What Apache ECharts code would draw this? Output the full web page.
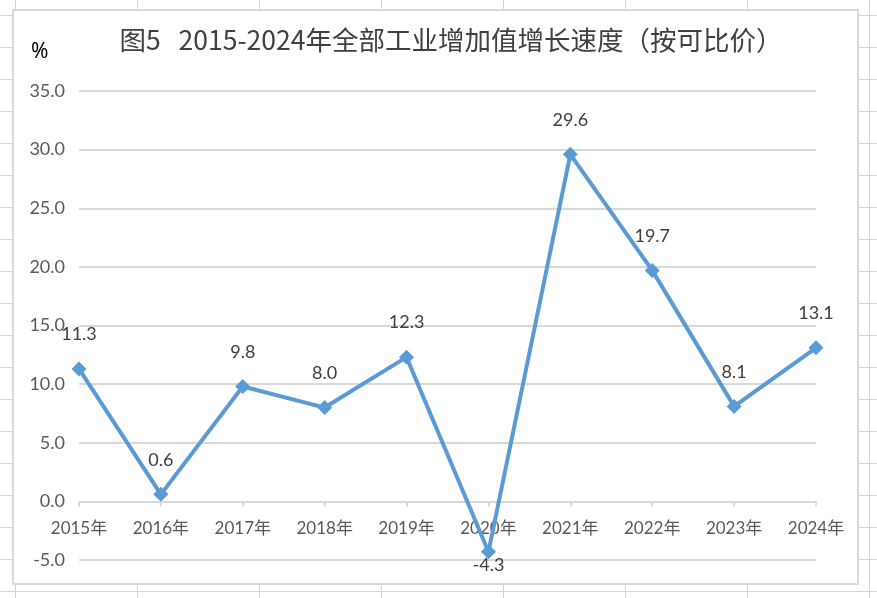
<!DOCTYPE html>
<html><head><meta charset="utf-8">
<script src="https://cdn.jsdelivr.net/npm/echarts@6/dist/echarts.min.js"></script>
<style>
html,body{margin:0;padding:0;background:#fff;}
#c{width:877px;height:598px;
background-image:linear-gradient(to right,#d4d4d4 1px,transparent 1px),linear-gradient(to bottom,#d4d4d4 1px,transparent 1px);
background-size:122px 32px;background-position:15px 15px;}
</style></head>
<body><div id="c"></div>
<script>
const categories=['2015年','2016年','2017年','2018年','2019年','2020年','2021年','2022年','2023年','2024年'];
const growth=[11.3,0.6,9.8,8.0,12.3,-4.3,29.6,19.7,8.1,13.1];
const yTicks={min:-5,max:35,interval:5};
const chart=echarts.init(document.getElementById('c'),null,{renderer:'canvas'});
const font='Lato,"Noto Sans CJK SC",sans-serif';
const cjk='"Noto Sans CJK SC",sans-serif';
chart.setOption({
  animation:false,
  graphic:[
    {type:'rect',z:-10,shape:{x:13,y:10,width:845,height:574},style:{fill:'#fff',stroke:'#d9d9d9',lineWidth:2}},
    {type:'text',left:31,top:42,style:{text:'%',fontSize:21,fill:'#000',fontFamily:'"Noto Sans",sans-serif'}}
  ],
  title:{text:'图5   2015-2024年全部工业增加值增长速度（按可比价）',left:446,textAlign:'center',top:22,
    textStyle:{fontSize:26.5,fontWeight:'normal',color:'#404040',fontFamily:cjk}},
  grid:{left:79,right:61,top:91,bottom:38},
  xAxis:{type:'category',data:categories,boundaryGap:false,
    axisLine:{onZero:true,lineStyle:{color:'#d9d9d9',width:2}},
    axisTick:{show:true,length:5,alignWithLabel:true,lineStyle:{color:'#d9d9d9',width:2}},
    axisLabel:{color:'#595959',fontSize:17,margin:-40,fontFamily:font}},
  yAxis:{type:'value',min:yTicks.min,max:yTicks.max,interval:yTicks.interval,
    axisLine:{show:false},axisTick:{show:false},
    splitLine:{lineStyle:{color:'#d9d9d9',width:2}},
    axisLabel:{color:'#595959',fontSize:18,margin:14,fontFamily:font,formatter:v=>v.toFixed(1)}},
  series:[{type:'line',data:growth.map(v=>v<0?{value:v,label:{position:'bottom',distance:-3}}:v),
    symbol:'diamond',symbolSize:15,
    lineStyle:{color:'#5b9bd5',width:4},itemStyle:{color:'#5b9bd5'},
    label:{show:true,position:'top',distance:18,color:'#404040',fontSize:18,fontFamily:font,formatter:p=>p.value.toFixed(1)}}]
});
</script></body></html>
